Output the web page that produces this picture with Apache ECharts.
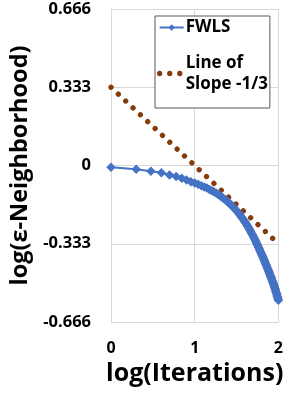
<!DOCTYPE html>
<html>
<head>
<meta charset="utf-8">
<script src="https://cdn.jsdelivr.net/npm/echarts@6/dist/echarts.min.js"></script>
<style>
html,body{margin:0;padding:0;background:#fff;}
#c{width:286px;height:393px;}
</style>
</head>
<body>
<div id="c"></div>
<script>
// log10 of iteration count (n = 1..100)
var fwlsX = [0,0.301,0.477,0.602,0.699,0.778,0.845,0.903,0.954,1,
1.041,1.079,1.114,1.146,1.176,1.204,1.230,1.255,1.279,1.301,
1.322,1.342,1.362,1.380,1.398,1.415,1.431,1.447,1.462,1.477,
1.491,1.505,1.519,1.531,1.544,1.556,1.568,1.580,1.591,1.602,
1.613,1.623,1.633,1.643,1.653,1.663,1.672,1.681,1.690,1.699,
1.708,1.716,1.724,1.732,1.740,1.748,1.756,1.763,1.771,1.778,
1.785,1.792,1.799,1.806,1.813,1.820,1.826,1.833,1.839,1.845,
1.851,1.857,1.863,1.869,1.875,1.881,1.886,1.892,1.898,1.903,
1.908,1.914,1.919,1.924,1.929,1.934,1.940,1.944,1.949,1.954,
1.959,1.964,1.968,1.973,1.978,1.982,1.987,1.991,1.996,2];
var fwlsY = [-0.007,-0.016,-0.024,-0.031,-0.040,-0.047,-0.054,-0.062,-0.069,-0.075,
-0.080,-0.086,-0.091,-0.096,-0.102,-0.107,-0.112,-0.117,-0.123,-0.128,
-0.134,-0.139,-0.145,-0.150,-0.156,-0.161,-0.167,-0.172,-0.178,-0.183,
-0.189,-0.195,-0.200,-0.206,-0.212,-0.218,-0.224,-0.229,-0.235,-0.241,
-0.247,-0.253,-0.259,-0.265,-0.271,-0.277,-0.283,-0.289,-0.295,-0.301,
-0.307,-0.313,-0.319,-0.325,-0.331,-0.337,-0.343,-0.349,-0.355,-0.361,
-0.367,-0.372,-0.378,-0.383,-0.389,-0.394,-0.400,-0.405,-0.411,-0.416,
-0.421,-0.426,-0.432,-0.437,-0.442,-0.447,-0.452,-0.458,-0.463,-0.468,
-0.473,-0.478,-0.483,-0.488,-0.493,-0.498,-0.503,-0.508,-0.513,-0.518,
-0.524,-0.529,-0.535,-0.540,-0.546,-0.551,-0.557,-0.562,-0.568,-0.573];
var slopeX = [0, 2];
var slopeY = [0.333, -0.333];
var xTickLabels = ['0', '1', '2'];
var yTickLabels = ['-0.666', '-0.333', '0', '0.333', '0.666'];
var seriesNames = ['FWLS', 'Line of Slope -1/3'];

function pairs(xs, ys) { return xs.map(function (x, i) { return [x, ys[i]]; }); }

var FONT = '"Open Sans", "Liberation Sans", sans-serif';
var BROWN = '#843C0C';
var BLUE = '#4472C4';
var DOTS = {color: BROWN, width: 5.3, type: [0.01, 10.05], cap: 'round'};
var chart = echarts.init(document.getElementById('c'), null, {renderer: 'canvas'});
chart.setOption({
  animation: false,
  backgroundColor: '#fff',
  grid: {left: 104, right: 7, top: 9, bottom: 71, containLabel: false},
  xAxis: {
    type: 'value', min: 0, max: 2, interval: 1,
    name: 'log(Iterations)', nameLocation: 'middle', nameGap: 38,
    nameTextStyle: {fontFamily: FONT, fontWeight: 'bold', fontSize: 25, color: '#000'},
    axisLine: {show: true, lineStyle: {color: '#d9d9d9', width: 1}},
    axisTick: {show: false},
    splitLine: {show: true, lineStyle: {color: '#d9d9d9', width: 1}},
    axisLabel: {margin: 18, fontFamily: FONT, fontWeight: 'bold', fontSize: 16, color: '#000',
      formatter: function (v) { return xTickLabels[Math.round(v)]; }}
  },
  yAxis: {
    type: 'value', min: -0.666, max: 0.666, interval: 0.333,
    name: 'log(ε-Neighborhood)', nameLocation: 'middle', nameGap: 79, nameRotate: 90,
    nameTextStyle: {fontFamily: FONT, fontWeight: 'bold', fontSize: 23.5, color: '#000'},
    axisLine: {show: true, lineStyle: {color: '#d9d9d9', width: 1}},
    axisTick: {show: false},
    splitLine: {show: true, lineStyle: {color: '#d9d9d9', width: 1}},
    axisLabel: {margin: 20, fontFamily: FONT, fontWeight: 'bold', fontSize: 16.5, color: '#000',
      formatter: function (v) { return yTickLabels[Math.round(v / 0.333) + 2]; }}
  },
  legend: {
    orient: 'vertical', left: 155, top: 16,
    padding: [1, 2, 3, 2],
    itemWidth: 24, itemHeight: 8, itemGap: 4,
    borderColor: '#595959', borderWidth: 1, backgroundColor: '#fff',
    textStyle: {fontFamily: FONT, fontWeight: 'bold', fontSize: 17, color: '#000', lineHeight: 21, padding: [0, 0, 0, -3]},
    data: [
      {name: seriesNames[0], lineStyle: {color: BLUE, width: 2}},
      {name: seriesNames[1], itemStyle: {opacity: 0}, lineStyle: DOTS, textStyle: {padding: [21, 0, 0, -3]}}
    ],
    formatter: function (n) { return n === seriesNames[1] ? 'Line of\nSlope -1/3' : n; }
  },
  series: [
    {
      name: seriesNames[0], type: 'line', data: pairs(fwlsX, fwlsY),
      symbol: 'diamond', symbolSize: 9.5, showSymbol: true,
      itemStyle: {color: BLUE},
      lineStyle: {color: BLUE, width: 2}, z: 3
    },
    {
      name: seriesNames[1], type: 'line', data: pairs(slopeX, slopeY),
      symbol: 'none',
      itemStyle: {color: BROWN},
      lineStyle: DOTS, z: 2
    }
  ]
});
</script>
</body>
</html>
